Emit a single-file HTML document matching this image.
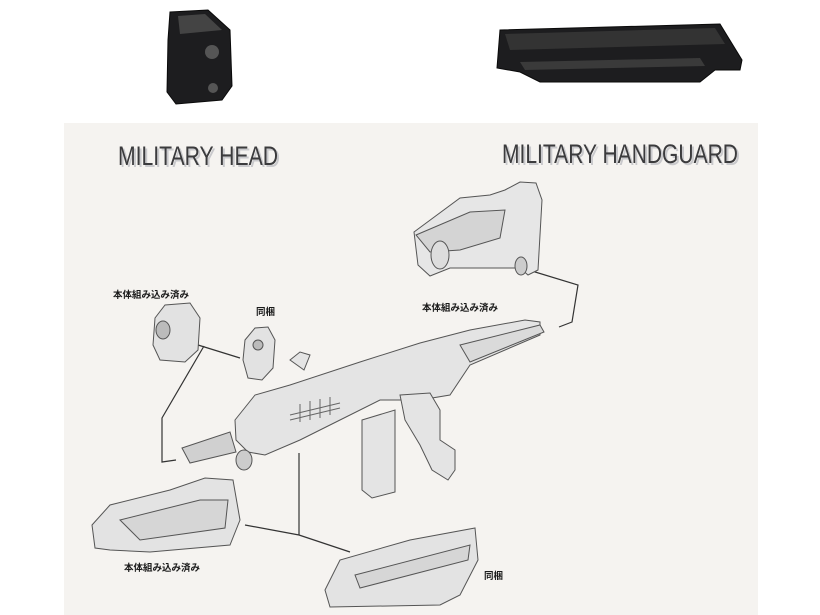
<!DOCTYPE html>
<html><head><meta charset="utf-8"><style>
html,body{margin:0;padding:0;background:#fff;width:820px;height:615px;overflow:hidden}
svg{display:block}
</style></head><body>
<svg width="820" height="615" viewBox="0 0 820 615" xmlns="http://www.w3.org/2000/svg" font-family="Liberation Sans, Noto Sans CJK JP, sans-serif">
<rect width="820" height="615" fill="#fff"/>
<!-- top black parts -->
<g fill="#1d1d1f" stroke="#0a0a0a">
<path d="M170 12 L208 10 L230 30 L232 86 L222 100 L176 104 L167 92 L168 40 Z"/>
<path d="M500 30 L720 24 L742 60 L740 70 L715 70 L700 82 L540 82 L520 72 L497 68 Z"/>
</g>
<path d="M178 16 L205 14 L222 30 L180 34 Z" fill="#444"/>
<circle cx="212" cy="52" r="7" fill="#555"/>
<circle cx="213" cy="88" r="5" fill="#555"/>
<path d="M505 34 L715 28 L725 44 L510 50 Z" fill="#333"/>
<path d="M520 62 L700 58 L705 66 L525 70 Z" fill="#3a3a3a"/>
<!-- panel -->
<rect x="64" y="123" width="694" height="492" fill="#f5f3f0"/>
<!-- titles -->
<g font-family="Liberation Sans Narrow, Liberation Sans, sans-serif" font-size="27" fill="#c9c9cc">
<text x="120" y="167" textLength="160" lengthAdjust="spacingAndGlyphs">MILITARY HEAD</text>
<text x="504" y="165" textLength="236" lengthAdjust="spacingAndGlyphs">MILITARY HANDGUARD</text>
</g>
<g font-family="Liberation Sans Narrow, Liberation Sans, sans-serif" font-size="27" fill="#3b3b3d">
<text x="118" y="165" textLength="160" lengthAdjust="spacingAndGlyphs">MILITARY HEAD</text>
<text x="502" y="163" textLength="236" lengthAdjust="spacingAndGlyphs">MILITARY HANDGUARD</text>
</g>
<!-- connector lines -->
<g stroke="#333" stroke-width="1.2" fill="none">
<path d="M522 268 L578 285 L572 322 L559 327"/>
<path d="M198 345 L240 358"/>
<path d="M204 346 L162 418 L162 462 L176 460"/>
<path d="M299 453 L299 535"/>
<path d="M245 525 L299 535 L350 552"/>
</g>
<!-- stock -->
<g fill="#e6e6e6" stroke="#555" stroke-width="1">
<path d="M414 232 L460 198 L490 195 L505 190 L520 182 L536 183 L542 200 L538 270 L528 275 L520 268 L450 268 L430 276 L418 265 Z"/>
<path d="M416 235 L470 212 L505 210 L500 238 L460 250 L430 252 Z" fill="#d4d4d4"/>
<ellipse cx="440" cy="255" rx="9" ry="14" fill="#ddd"/>
<ellipse cx="521" cy="266" rx="6" ry="9" fill="#ccc"/>
</g>
<!-- heads -->
<g fill="#e2e2e2" stroke="#555" stroke-width="1">
<path d="M155 318 L165 305 L190 303 L200 318 L198 350 L185 362 L160 360 L153 345 Z"/>
<ellipse cx="163" cy="330" rx="7" ry="9" fill="#bbb"/>
<path d="M245 340 L255 328 L268 327 L275 340 L273 368 L262 380 L248 378 L243 360 Z"/>
<circle cx="258" cy="345" r="5" fill="#bbb"/>
</g>
<!-- gun body -->
<g fill="#e4e4e4" stroke="#555" stroke-width="1">
<path d="M235 420 L255 395 L290 385 L360 362 L420 343 L470 330 L525 320 L540 322 L540 335 L470 365 L450 395 L420 400 L380 400 L330 425 L300 440 L265 455 L248 452 L236 440 Z"/>
<path d="M460 345 L540 325 L544 332 L470 362 Z" fill="#dadada"/>
<path d="M400 395 L430 393 L440 410 L440 440 L455 450 L455 470 L448 480 L432 470 L420 445 L405 420 Z"/>
<path d="M362 420 L395 410 L395 492 L372 498 L362 490 Z"/>
<path d="M182 448 L230 432 L236 452 L190 463 Z" fill="#d0d0d0"/>
<ellipse cx="244" cy="460" rx="8" ry="10" fill="#ccc"/>
<path d="M290 360 L300 352 L310 355 L304 370 Z"/>
</g>
<g stroke="#666" stroke-width="1">
<path d="M290 415 L340 403 M290 420 L340 408 M300 404 L300 422 M310 401 L310 420 M320 399 L320 418 M330 397 L330 415"/>
</g>
<!-- handguards -->
<g fill="#e3e3e3" stroke="#555" stroke-width="1">
<path d="M92 525 L110 505 L170 490 L205 478 L233 480 L240 520 L230 545 L150 552 L110 550 L95 548 Z"/>
<path d="M120 520 L200 500 L228 500 L225 528 L140 540 Z" fill="#d6d6d6"/>
<path d="M325 590 L340 560 L410 540 L475 528 L478 560 L460 595 L440 605 L330 607 Z"/>
<path d="M355 575 L470 545 L468 560 L360 588 Z" fill="#d6d6d6"/>
</g>
<!-- labels -->
<g font-size="9.5" font-weight="bold" fill="#1a1a1a">
<text x="113" y="298">本体組み込み済み</text>
<text x="256" y="315">同梱</text>
<text x="422" y="311">本体組み込み済み</text>
<text x="124" y="571">本体組み込み済み</text>
<text x="484" y="579">同梱</text>
</g>
</svg>
</body></html>
